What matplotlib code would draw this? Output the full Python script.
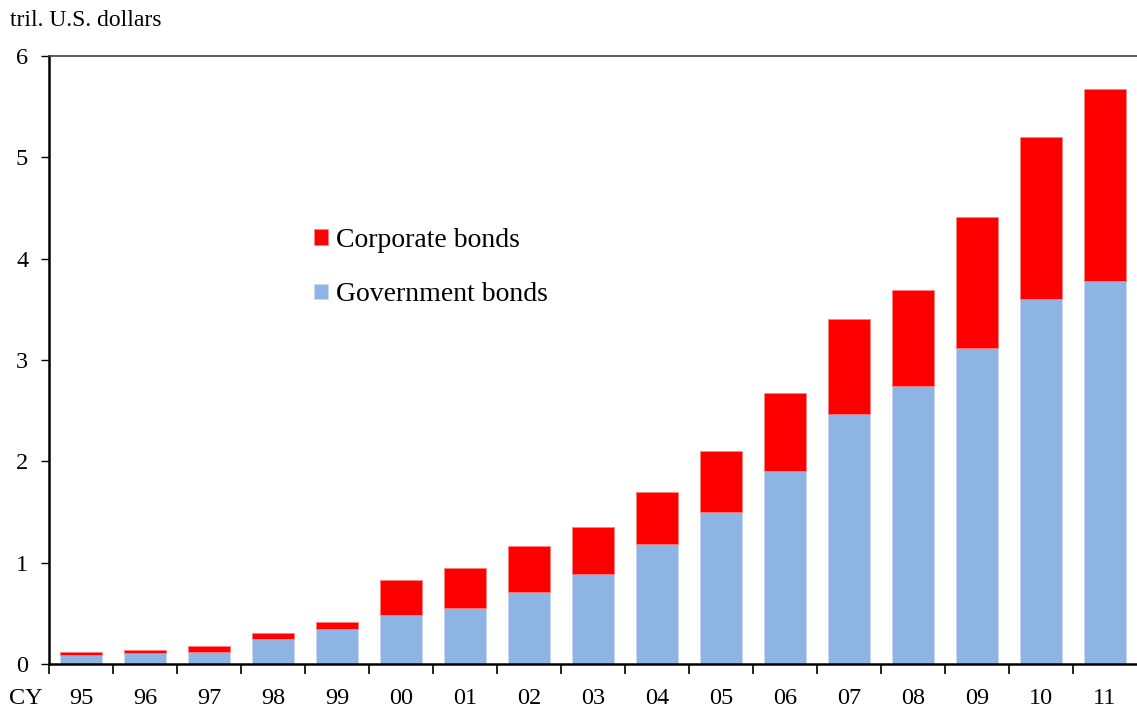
import matplotlib
matplotlib.use("Agg")
import matplotlib.pyplot as plt
import numpy as np

# Data (tril. U.S. dollars)
years = ['95', '96', '97', '98', '99', '00', '01', '02', '03', '04',
         '05', '06', '07', '08', '09', '10', '11']
government = [0.09, 0.11, 0.12, 0.25, 0.35, 0.48, 0.555, 0.71, 0.89, 1.18,
              1.50, 1.905, 2.465, 2.745, 3.12, 3.60, 3.78]
total = [0.12, 0.14, 0.18, 0.31, 0.41, 0.83, 0.945, 1.165, 1.35, 1.70,
         2.10, 2.67, 3.40, 3.69, 4.41, 5.20, 5.67]
corporate = [t - g for t, g in zip(total, government)]

plt.rcParams['font.family'] = ['Liberation Serif', 'DejaVu Serif']

fig = plt.figure(figsize=(11.37, 7.11), dpi=100)
ax = fig.add_axes([49 / 1137, 1 - 664 / 711, (1137 - 49) / 1137, (664 - 56) / 711])

x = np.arange(len(years))
gov_bars = ax.bar(x, government, width=0.655, color='#8EB4E3',
                  edgecolor='#C8DAF0', linewidth=0.6, zorder=2)
corp_bars = ax.bar(x, corporate, width=0.655, bottom=government, color='#FF0000',
                   edgecolor='#FF8080', linewidth=0.6, zorder=2)

ax.set_xlim(-0.5, len(years) - 0.5)
ax.set_ylim(0, 6)
ax.set_yticks(range(0, 7))
ax.tick_params(axis='y', direction='out', length=6, width=1, labelsize=17.5, pad=9)

# category ticks sit at bar boundaries, labels under bars
ax.set_xticks(np.arange(len(years)) - 0.5, minor=False)
ax.set_xticklabels([])
ax.set_xticks(x, minor=True)
ax.set_xticklabels(years, minor=True)
ax.tick_params(axis='x', which='major', direction='out', length=7, width=1.2)
ax.tick_params(axis='x', which='minor', length=0, labelsize=17.5, pad=17)

for s in ['left', 'bottom']:
    ax.spines[s].set_linewidth(1.8)
    ax.spines[s].set_color('black')
ax.spines['top'].set_color('#404040')
ax.spines['top'].set_linewidth(1.2)
ax.spines['right'].set_visible(False)

fig.text(10 / 1137, 1 - 20 / 711, 'tril. U.S. dollars', fontsize=17, va='center', ha='left')
# "CY" sits on the same baseline as the year labels
fig.text(9 / 1137, 1 - 704 / 711, 'CY', fontsize=17.5, va='baseline', ha='left')

ax.legend([corp_bars, gov_bars], ['Corporate bonds', 'Government bonds'],
          loc='upper left', bbox_to_anchor=(303 / 1137, 1 - 217 / 711),
          bbox_transform=fig.transFigure, frameon=False, fontsize=20,
          handlelength=0.5, handleheight=0.5, handletextpad=0.3,
          labelspacing=1.05, borderaxespad=0)

fig.savefig('out.png', dpi=100)
